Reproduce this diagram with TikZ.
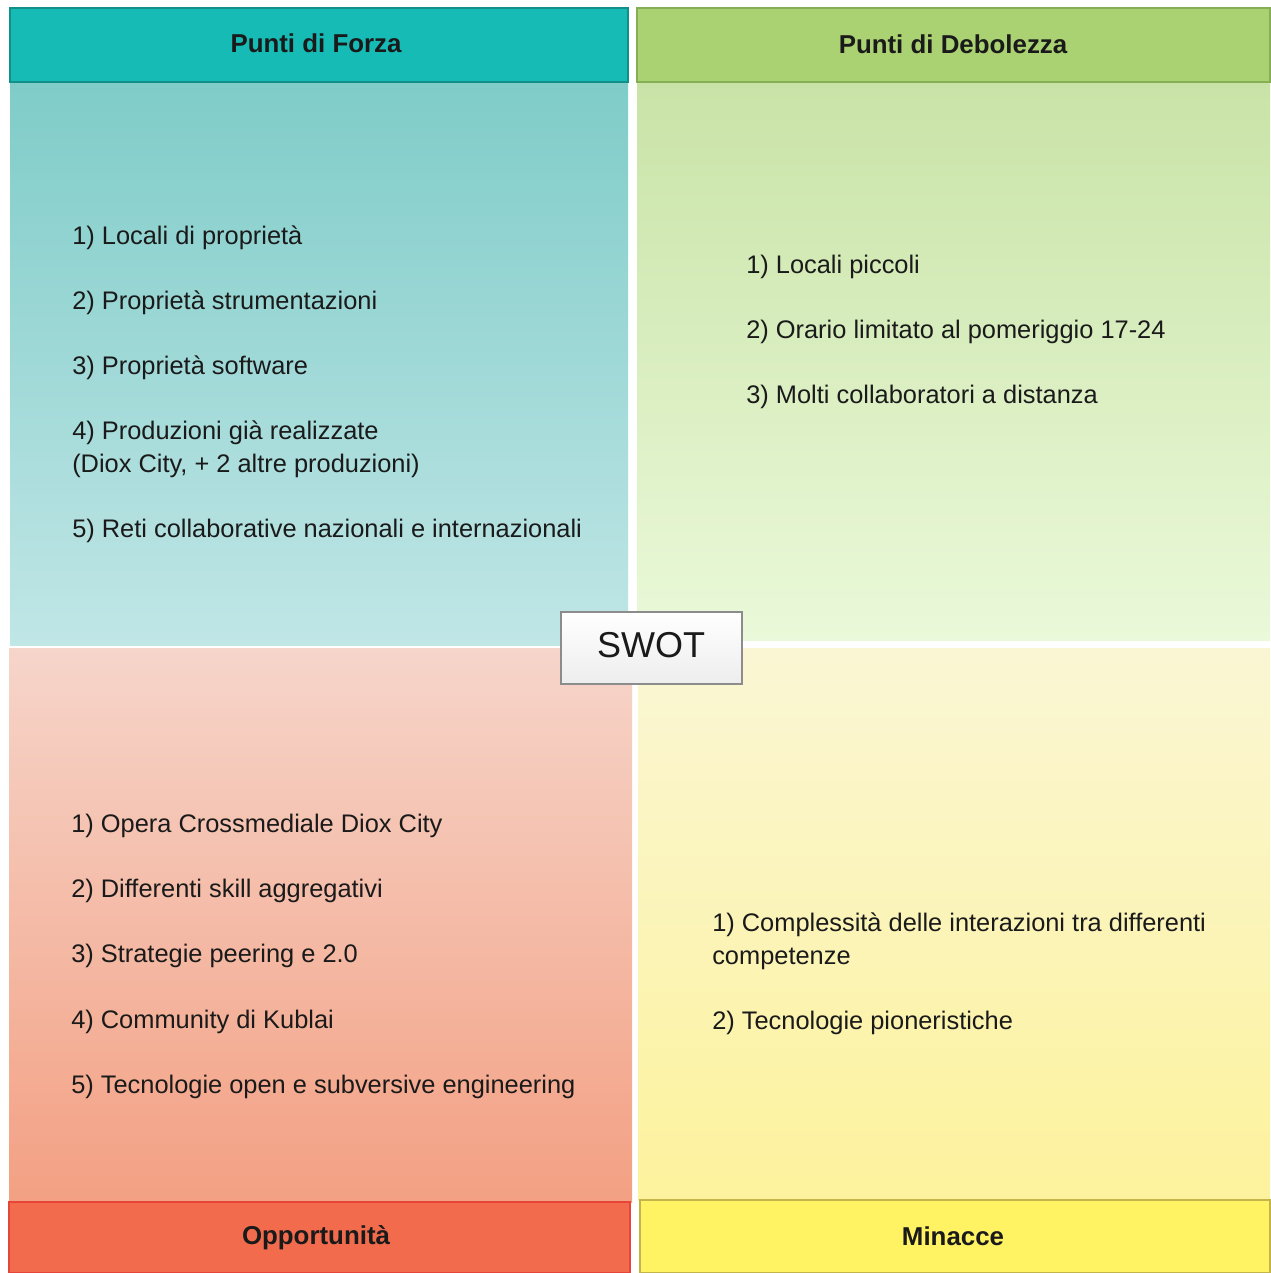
\documentclass[tikz,border=0pt]{standalone}
\usepackage{fontspec}
\setmainfont{Liberation Sans}
\definecolor{tlHead}{HTML}{17BBB5}
\definecolor{tlHeadB}{HTML}{138F8A}
\definecolor{tlTop}{HTML}{7FCCC8}
\definecolor{tlBot}{HTML}{C0E6E6}
\definecolor{trHead}{HTML}{AAD172}
\definecolor{trHeadB}{HTML}{86AE55}
\definecolor{trTop}{HTML}{C9E3A7}
\definecolor{trBot}{HTML}{EAF9D9}
\definecolor{blHead}{HTML}{F16B4C}
\definecolor{blHeadB}{HTML}{E8453A}
\definecolor{blTop}{HTML}{F6D5CA}
\definecolor{blBot}{HTML}{F3A083}
\definecolor{brHead}{HTML}{FFF263}
\definecolor{brHeadB}{HTML}{C4B54A}
\definecolor{brTop}{HTML}{FAF6D4}
\definecolor{brBot}{HTML}{FDF29C}
\definecolor{txt}{HTML}{1A1A1A}
\begin{document}
\begin{tikzpicture}[x=0.75pt,y=-0.75pt,
  item/.style={anchor=base west,inner sep=0pt,text=txt,font=\fontsize{19.05}{22}\selectfont},
  hdr/.style={inner sep=0pt,text=txt,font=\bfseries\fontsize{19.4}{22}\selectfont},
  hdrbox/.style={line width=0.8pt}]
\path[fill=white] (0,0) rectangle (1270,1273);
\useasboundingbox (0,0) rectangle (1270,1273);
% quadrant bodies
\shade[top color=tlTop,bottom color=tlBot] (10,82) rectangle (628,645);
\shade[top color=trTop,bottom color=trBot] (637,82) rectangle (1270,640);
\shade[top color=blTop,bottom color=blBot] (9,648) rectangle (632,1202);
\shade[top color=brTop,bottom color=brBot] (638,648) rectangle (1270,1200);
% headers
\draw[hdrbox,fill=tlHead,draw=tlHeadB] (10,8) rectangle (628,82);
\draw[hdrbox,fill=trHead,draw=trHeadB] (637,8) rectangle (1270,82);
\draw[hdrbox,fill=blHead,draw=blHeadB] (9,1202) rectangle (630,1273);
\draw[hdrbox,fill=brHead,draw=brHeadB] (640,1200) rectangle (1270,1273);
\node[hdr] (hS) at (316,43) {Punti di Forza};
\node[hdr] (hW) at (953,44) {Punti di Debolezza};
\node[hdr] (hO) at (316,1238) {Opportunità};
\node[hdr] (hT) at (953,1236) {Minacce};
% strengths
\node[item] (s1) at (72,244) {1) Locali di proprietà};
\node[item] (s2) at (72,309) {2) Proprietà strumentazioni};
\node[item] (s3) at (72,374) {3) Proprietà software};
\node[item] (s4) at (72,439) {4) Produzioni già realizzate};
\node[item] (s4b) at (72,472) {(Diox City, + 2 altre produzioni)};
\node[item] (s5) at (72,537) {5) Reti collaborative nazionali e internazionali};
% weaknesses
\node[item] (w1) at (746,273) {1) Locali piccoli};
\node[item] (w2) at (746,338) {2) Orario limitato al pomeriggio 17-24};
\node[item] (w3) at (746,403) {3) Molti collaboratori a distanza};
% opportunities
\node[item] (o1) at (71,832) {1) Opera Crossmediale Diox City};
\node[item] (o2) at (71,897) {2) Differenti skill aggregativi};
\node[item] (o3) at (71,962) {3) Strategie peering e 2.0};
\node[item] (o4) at (71,1028) {4) Community di Kublai};
\node[item] (o5) at (71,1093) {5) Tecnologie open e subversive engineering};
% threats
\node[item] (t1) at (712,931) {1) Complessità delle interazioni tra differenti};
\node[item] (t1b) at (712,964) {competenze};
\node[item] (t2) at (712,1029) {2) Tecnologie pioneristiche};
% center
\shade[top color=white,bottom color=black!7] (561,612) rectangle (742,684);
\draw[black!45,line width=0.8pt] (561,612) rectangle (742,684);
\node[inner sep=0pt,text=txt,font=\fontsize{27}{30}\selectfont] (swot) at (651,645) {SWOT};
\end{tikzpicture}
\end{document}
